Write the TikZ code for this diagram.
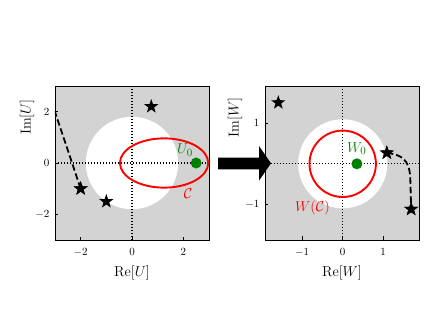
\documentclass[tikz,border=0pt]{standalone}
\usetikzlibrary{shapes.geometric}
\definecolor{mplgray}{RGB}{211,211,211}
\definecolor{mplgreen}{RGB}{0,128,0}
\tikzset{
 starmark/.style={star, star points=5, star point ratio=2.5, fill=black, draw=none, minimum size=15pt, inner sep=0pt},
 dotmark/.style={circle, fill=mplgreen, draw=none, minimum size=11pt, inner sep=0pt},
 axisdot/.style={line width=1.2pt, dash pattern=on 1.2pt off 1.8pt},
 dashline/.style={line width=1.8pt, dash pattern=on 6.5pt off 3pt},
 redline/.style={red, line width=1.9pt},
 ticklab/.style={font=\fontsize{11}{13}\selectfont, inner sep=0pt},
 axlab/.style={font=\fontsize{15.5}{18}\selectfont, inner sep=0pt},
 annlab/.style={font=\fontsize{15}{18}\selectfont, inner sep=0pt},
 axframe/.style={draw=black, line width=0.9pt},
 tickmark/.style={line width=0.8pt}
}
\begin{document}
\begin{tikzpicture}
\useasboundingbox (0,0) rectangle (436pt,327pt);
% ---------------- left panel (U plane)
\begin{scope}[shift={(132pt,164pt)}, x=25.67pt, y=25.67pt]
  \fill[mplgray] (-3,-3) rectangle (3,3);
  \begin{scope}
    \clip (-3,-3) rectangle (3,3);
    \fill[white] (0,0) circle (1.8);
    \draw[axisdot] (-3,0) -- (3,0);
    \draw[axisdot] (0,-3) -- (0,3);
    \draw[redline] (1.25,0) ellipse (1.72 and 0.96);
    \coordinate (lstart) at (-3.02,2.05);
    \node[starmark] (lstarA) at (-2,-1) {};
    \draw[dashline] (lstart) -- (lstarA.center);
    \node[starmark] (lstarA) at (-2,-1) {};
    \node[starmark] (lstarB) at (-1,-1.5) {};
    \node[starmark] (lstarC) at (0.75,2.2) {};
    \node[dotmark] (U0) at (2.5,0) {};
  \end{scope}
  \draw[axframe] (-3,-3) rectangle (3,3);
  \foreach \t/\l in {-2/$-2$,0/$0$,2/$2$}{
    \draw[tickmark] (\t,-3) -- ++(0,3.5pt);
    \draw[tickmark] (-3,\t) -- ++(3.5pt,0);
    \node[ticklab, anchor=north] (lx\t) at ([yshift=-8pt]\t,-3) {\l};
    \node[ticklab, anchor=east] (ly\t) at ([xshift=-5.5pt]-3,\t) {\l};
  }
\end{scope}
\node[annlab, text=mplgreen] (U0lab) at (185pt,177pt) {$U_0$};
\node[annlab, text=red] (Clab) at (188pt,133pt) {$\mathcal{C}$};
\node[axlab] (reU) at (132pt,54pt) {$\mathrm{Re}[U]$};
\node[axlab, rotate=90] (imU) at (27pt,210pt) {$\mathrm{Im}[U]$};
% ---------------- right panel (W plane)
\begin{scope}[shift={(342.7pt,163.2pt)}, x=40.5pt, y=40.5pt]
  \fill[mplgray] (-1.919,-1.881) rectangle (1.884,1.921);
  \begin{scope}
    \clip (-1.919,-1.881) rectangle (1.884,1.921);
    \fill[white] (0,0) circle (1.1);
    \draw[axisdot] (-1.919,0) -- (1.884,0);
    \draw[axisdot] (0,-1.881) -- (0,1.921);
    \draw[redline] (0,0) circle (0.82);
    \node[starmark] (rstarB) at (1.09,0.27) {};
    \node[starmark] (rstarC) at (1.69,-1.12) {};
    \draw[dashline] (rstarB.center) .. controls (1.45,0.22) and (1.66,0.12) .. (1.67,-0.4) -- (rstarC.center);
    \node[starmark] (rstarA) at (-1.59,1.51) {};
    \node[starmark] (rstarB) at (1.09,0.27) {};
    \node[starmark] (rstarC) at (1.69,-1.12) {};
    \node[dotmark] (W0) at (0.35,0) {};
  \end{scope}
  \draw[axframe] (-1.919,-1.881) rectangle (1.884,1.921);
  \foreach \t/\l in {-1/$-1$,0/$0$,1/$1$}{
    \draw[tickmark] (\t,-1.881) -- ++(0,3.5pt);
    \node[ticklab, anchor=north] (rx\t) at ([yshift=-8pt]\t,-1.881) {\l};
  }
  \foreach \t/\l in {-1/$-1$,1/$1$}{
    \draw[tickmark] (-1.919,\t) -- ++(3.5pt,0);
    \node[ticklab, anchor=east] (ry\t) at ([xshift=-5.5pt]-1.919,\t) {\l};
  }
\end{scope}
\node[annlab, text=mplgreen] (W0lab) at (356.7pt,178.7pt) {$W_0$};
\node[annlab, text=red] (WClab) at (312.5pt,119.5pt) {$W(\mathcal{C})$};
\node[axlab] (reW) at (342pt,54pt) {$\mathrm{Re}[W]$};
\node[axlab, rotate=90] (imW) at (235pt,209.5pt) {$\mathrm{Im}[W]$};
% ---------------- big arrow
\coordinate (arrA) at (218pt,157.7pt);
\coordinate (arrB) at (259pt,157.7pt);
\coordinate (arrC) at (259pt,146.3pt);
\coordinate (arrTip) at (271pt,163.7pt);
\coordinate (arrD) at (259pt,181pt);
\coordinate (arrE) at (259pt,169.3pt);
\coordinate (arrF) at (218pt,169.3pt);
\fill[black] (arrA) -- (arrB) -- (arrC) -- (arrTip) -- (arrD) -- (arrE) -- (arrF) -- cycle;
\end{tikzpicture}
\end{document}
